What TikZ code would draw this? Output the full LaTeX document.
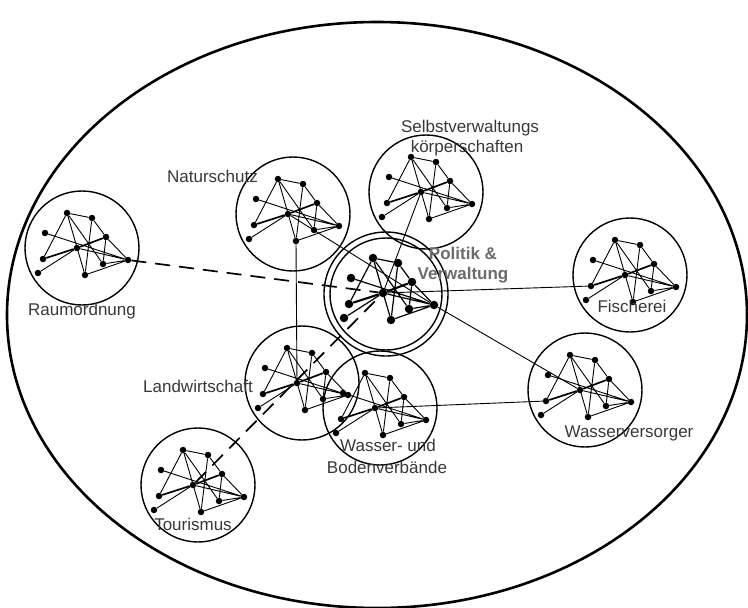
\documentclass[tikz,border=0pt]{standalone}
\usepackage{fontspec}
\setmainfont{Liberation Sans}
\begin{document}
\begin{tikzpicture}[x=1pt,y=-1pt,
  dot/.style={circle,fill=black,inner sep=0pt,minimum size=6.5pt},
  edge/.style={line width=0.9pt},
  bedge/.style={line width=1.7pt},
  ring/.style={circle,draw,line width=1.4pt,inner sep=0pt,minimum size=114pt},
  lbl/.style={font=\fontsize{17}{20}\selectfont,text=black!78,inner sep=0pt,anchor=base},
  plbl/.style={font=\fontsize{17}{20}\selectfont\bfseries,text=black!58,inner sep=0pt,anchor=base},
  link/.style={line width=0.9pt},
  dlink/.style={line width=1.7pt,dash pattern=on 15pt off 9pt},
  cluster/.pic={
    \node[dot] (-A) at (-15,-35) {};
    \node[dot] (-B) at (10,-30) {};
    \node[dot] (-C) at (-37,-15) {};
    \node[dot] (-D) at (24,-11) {};
    \node[dot] (-E) at (-5,0) {};
    \node[dot] (-F) at (-39,11) {};
    \node[dot] (-G) at (46,12) {};
    \node[dot] (-H) at (21,16) {};
    \node[dot] (-I) at (-44,25) {};
    \node[dot] (-J) at (3,27) {};
    \draw[edge] (-A) -- (-B) (-A) -- (-F) (-A) -- (-J) (-A) -- (-H)
      (-B) -- (-D) (-B) -- (-J) (-D) -- (-G) (-D) -- (-H)
      (-C) -- (-G) (-I) -- (-E) (-E) -- (-G) (-H) -- (-G) (-J) -- (-G);
    \draw[bedge] (-F) -- (-E) -- (-D);
  }
]
\useasboundingbox (0,0) rectangle (748,608);
% outer ellipse
\draw[line width=2.6pt] (377,315) ellipse [x radius=370, y radius=293];

% rings
\node[ring] (raR) at (82,248) {};
\node[ring] (naR) at (293,214) {};
\node[ring] (seR) at (426,192) {};
\node[ring] (fiR) at (630,275) {};
\node[ring] (wvR) at (585,390) {};
\node[ring] (laR) at (302,383) {};
\node[ring] (wbR) at (380,408) {};
\node[ring] (toR) at (198,485) {};
\node[ring,minimum size=124pt] (poO) at (386,294) {};
\node[ring,minimum size=112pt] (poI) at (386,294) {};

% clusters
\pic (ra) at (82,248) {cluster};
\pic (na) at (293,214) {cluster};
\pic (se) at (426,192) {cluster};
\pic (fi) at (630,275) {cluster};
\pic (wv) at (585,390) {cluster};
\pic (la) at (302,383) {cluster};
\pic (wb) at (380,408) {cluster};
\pic (to) at (198,485) {cluster};
\pic[dot/.style={circle,fill=black,inner sep=0pt,minimum size=8.5pt},
     edge/.style={line width=1.2pt},
     bedge/.style={line width=2.1pt}] (po) at (388,293) {cluster};

% links between clusters
\draw[dlink] (ra-G) -- (po-E);
\draw[dlink] (to-E) -- (po-E);
\draw[link] (na-J) -- (la-E);
\draw[link] (na-E) -- (po-G);
\draw[link] (po-G) -- (wv-E);
\draw[link] (po-E) -- (se-E);
\draw[link] (po-E) -- (fi-F);
\draw[link] (wb-E) -- (wv-F);

% labels
\node[lbl] (lra) at (82,315) {Raumordnung};
\node[lbl,anchor=base east] (lna) at (258,182) {Naturschutz};
\node[lbl] (lse1) at (470,132) {Selbstverwaltungs};
\node[lbl] (lse2) at (467,152) {körperschaften};
\node[plbl] (lpo1) at (463,259) {Politik \&};
\node[plbl] (lpo2) at (463,279) {Verwaltung};
\node[lbl] (lfi) at (632,312) {Fischerei};
\node[lbl] (lwv) at (629,437) {Wasserversorger};
\node[lbl,anchor=base east] (lla) at (253,392) {Landwirtschaft};
\node[lbl] (lwb1) at (388,451) {Wasser- und};
\node[lbl] (lwb2) at (387,473) {Bodenverbände};
\node[lbl] (lto) at (193,530) {Tourismus};
\end{tikzpicture}
\end{document}
